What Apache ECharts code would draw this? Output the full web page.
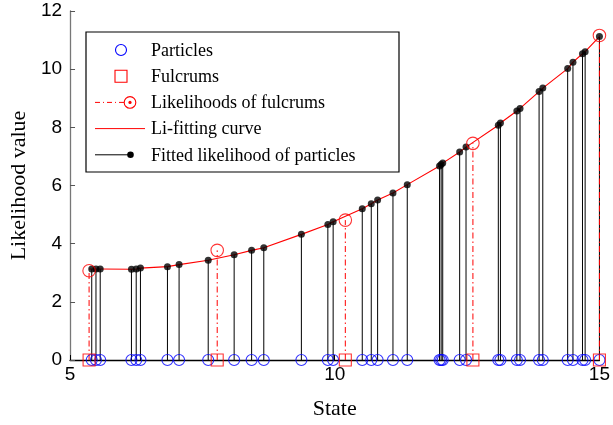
<!DOCTYPE html>
<html>
<head>
<meta charset="utf-8">
<script src="https://cdn.jsdelivr.net/npm/echarts@6/dist/echarts.min.js"></script>
<style>
html,body{margin:0;padding:0;background:#fff;}
#c{width:613px;height:425px;}
</style>
</head>
<body>
<div id="c"></div>
<script>
// ---- data ----
const particleX = [5.41,5.49,5.57,6.16,6.25,6.33,6.84,7.06,7.61,8.10,8.43,8.66,9.37,9.87,9.97,10.52,10.69,10.81,11.10,11.37,11.98,12.01,12.04,12.36,12.48,13.09,13.13,13.44,13.50,13.86,13.93,14.40,14.50,14.68,14.73,15.00];
const fittedY   = [3.13,3.13,3.13,3.12,3.13,3.16,3.21,3.28,3.43,3.62,3.77,3.86,4.32,4.66,4.75,5.20,5.37,5.50,5.74,6.03,6.67,6.72,6.77,7.15,7.32,8.07,8.15,8.56,8.65,9.23,9.35,10.02,10.24,10.53,10.60,11.12];
const fulcrumX  = [5.36,7.78,10.20,12.61,15.00];
const fulcrumY  = [3.07,3.77,4.81,7.45,11.16];
const curveX    = [5.36,5.41,5.49,5.57,6.16,6.25,6.33,6.84,7.06,7.61,8.10,8.43,8.66,9.37,9.87,9.97,10.52,10.69,10.81,11.10,11.37,11.98,12.01,12.04,12.36,12.48,13.09,13.13,13.44,13.50,13.86,13.93,14.40,14.50,14.68,14.73,15.00];
const curveY    = [3.13,3.13,3.13,3.13,3.12,3.13,3.16,3.21,3.28,3.43,3.62,3.77,3.86,4.32,4.66,4.75,5.20,5.37,5.50,5.74,6.03,6.67,6.72,6.77,7.15,7.32,8.07,8.15,8.56,8.65,9.23,9.35,10.02,10.24,10.53,10.60,11.12];
const xTicks = [5, 10, 15];
const yTicks = [0, 2, 4, 6, 8, 10, 12];
const legendNames = ['Particles','Fulcrums','Likelihoods of fulcrums','Li-fitting curve','Fitted likelihood of particles'];
const xLabel = 'State';
const yLabel = 'Likelihood value';

const zip = (a, b) => a.map((v, i) => [v, b[i]]);
const particleData = zip(particleX, fittedY);
const particleBase = particleX.map(v => [v, 0]);
const fulcrumData = zip(fulcrumX, fulcrumY);
const fulcrumBase = fulcrumX.map(v => [v, 0]);
const curveData = zip(curveX, curveY);

const BLUE = '#0000ff', RED = '#ff0000';
const serif = '"Liberation Serif","Times New Roman",serif';
const sans = '"Liberation Sans",Arial,sans-serif';

function stem(color, dash, width) {
  return function (params, api) {
    const p0 = api.coord([api.value(0), 0]);
    const p1 = api.coord([api.value(0), api.value(1)]);
    return {
      type: 'line',
      shape: { x1: p0[0], y1: p0[1], x2: p1[0], y2: p1[1] },
      style: { stroke: color, lineWidth: width, lineDash: dash }
    };
  };
}

const chart = echarts.init(document.getElementById('c'), null, { renderer: 'canvas' });

// legend built with graphic elements (MATLAB-style box)
const LX = 86, LY = 32, rowH = 26.2, row0 = 18;
const legendChildren = [
  { type: 'rect', shape: { x: LX, y: LY, width: 313, height: 140 }, style: { fill: '#fff', stroke: '#000', lineWidth: 1.2 } },
  { type: 'circle', shape: { cx: 121, cy: LY + row0, r: 5.5 }, style: { fill: 'none', stroke: BLUE, lineWidth: 1.1 } },
  { type: 'rect', shape: { x: 115, y: LY + row0 + rowH - 6, width: 12, height: 12 }, style: { fill: 'none', stroke: RED, lineWidth: 1.1 } },
  { type: 'line', shape: { x1: 95, y1: LY + row0 + 2 * rowH, x2: 124, y2: LY + row0 + 2 * rowH }, style: { stroke: RED, lineWidth: 1, lineDash: [5, 3, 1, 3] } },
  { type: 'circle', shape: { cx: 130, cy: LY + row0 + 2 * rowH, r: 5.8 }, style: { fill: 'none', stroke: RED, lineWidth: 1.1 } },
  { type: 'circle', shape: { cx: 130, cy: LY + row0 + 2 * rowH, r: 1.6 }, style: { fill: RED, stroke: 'none' } },
  { type: 'line', shape: { x1: 95, y1: LY + row0 + 3 * rowH, x2: 145, y2: LY + row0 + 3 * rowH }, style: { stroke: RED, lineWidth: 1 } },
  { type: 'line', shape: { x1: 95, y1: LY + row0 + 4 * rowH, x2: 130, y2: LY + row0 + 4 * rowH }, style: { stroke: '#000', lineWidth: 1 } },
  { type: 'circle', shape: { cx: 130.5, cy: LY + row0 + 4 * rowH, r: 3.3 }, style: { fill: '#000', stroke: 'none' } }
];
legendNames.forEach((n, i) => {
  legendChildren.push({
    type: 'text',
    style: { x: 151, y: LY + row0 + i * rowH + 1, text: n, fill: '#000', font: '18px ' + serif, textVerticalAlign: 'middle', textAlign: 'left' }
  });
});

const option = {
  backgroundColor: '#fff',
  animation: false,
  grid: { left: 69, right: 9, top: 11, bottom: 58, containLabel: false },
  xAxis: {
    type: 'value', min: 5, max: 15, interval: 5,
    name: xLabel, nameLocation: 'middle', nameGap: 38,
    nameTextStyle: { fontFamily: serif, fontSize: 22, color: '#000' },
    axisLine: { show: true, onZero: false, lineStyle: { color: '#000', width: 1.3 } },
    axisTick: { show: true, inside: true, length: 5, lineStyle: { color: '#000' } },
    axisLabel: { color: '#000', fontFamily: sans, fontSize: 19, margin: 5,
      formatter: v => xTicks.indexOf(v) >= 0 ? String(v) : '' },
    splitLine: { show: false }
  },
  yAxis: {
    type: 'value', min: 0, max: 12, interval: 2,
    name: yLabel, nameLocation: 'middle', nameGap: 32,
    nameTextStyle: { fontFamily: serif, fontSize: 22, color: '#000' },
    axisLine: { show: true, lineStyle: { color: '#777', width: 1.3 } },
    axisTick: { show: true, inside: true, length: 5, lineStyle: { color: '#555' } },
    axisLabel: { color: '#000', fontFamily: sans, fontSize: 19, margin: 8,
      formatter: v => yTicks.indexOf(v) >= 0 ? String(v) : '' },
    splitLine: { show: false }
  },
  graphic: [{ type: 'group', z: 100, children: legendChildren }],
  series: [
    { name: 'stems', type: 'custom', renderItem: stem('#000', null, 1), data: particleData, z: 2, clip: false },
    { name: 'fstems', type: 'custom', renderItem: stem(RED, [6, 3, 1.5, 3], 1), data: fulcrumData, z: 3, clip: false },
    { name: legendNames[3], type: 'line', data: curveData, showSymbol: false, symbol: 'none',
      lineStyle: { color: RED, width: 1.1 }, z: 4, clip: false },
    { name: legendNames[4], type: 'scatter', data: particleData, symbol: 'circle', symbolSize: 7,
      itemStyle: { color: '#000' }, z: 5, clip: false },
    { name: legendNames[2], type: 'scatter', data: fulcrumData, symbol: 'circle', symbolSize: 12.5,
      itemStyle: { color: 'rgba(0,0,0,0)', borderColor: RED, borderWidth: 1.1 }, z: 6, clip: false },
    { name: legendNames[0], type: 'scatter', data: particleBase, symbol: 'circle', symbolSize: 11,
      itemStyle: { color: 'rgba(0,0,0,0)', borderColor: BLUE, borderWidth: 1.1 }, z: 7, clip: false },
    { name: legendNames[1], type: 'scatter', data: fulcrumBase, symbol: 'rect', symbolSize: 12,
      itemStyle: { color: 'rgba(0,0,0,0)', borderColor: RED, borderWidth: 1.1 }, z: 8, clip: false }
  ]
};
chart.setOption(option);
</script>
</body>
</html>
